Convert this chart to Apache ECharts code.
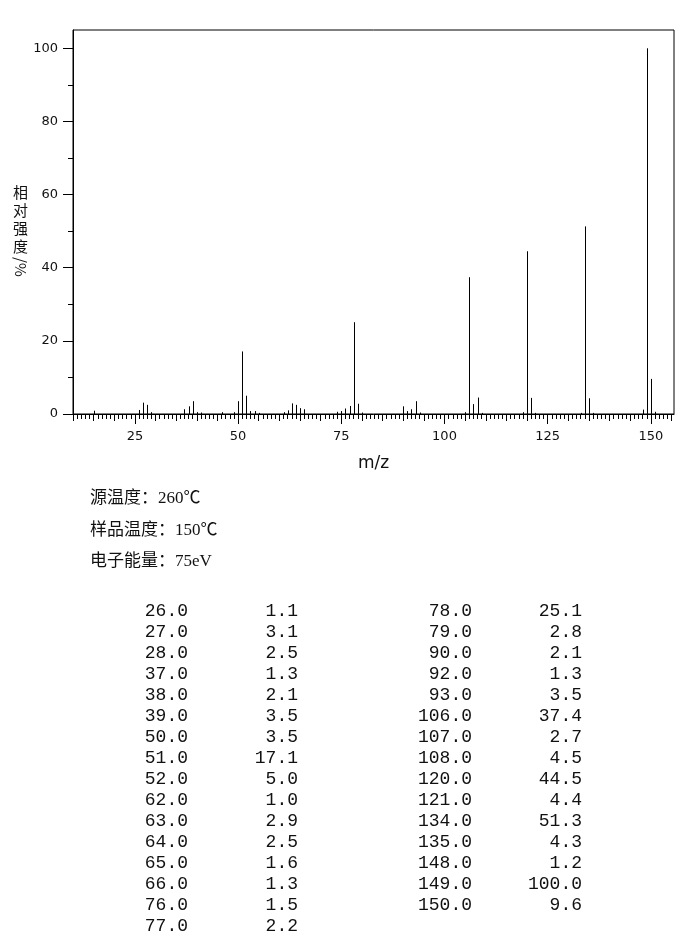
<!DOCTYPE html>
<html>
<head>
<meta charset="utf-8">
<script src="https://cdn.jsdelivr.net/npm/echarts@6/dist/echarts.min.js"></script>
<style>
html,body{margin:0;padding:0;background:#fff;}
#chart{width:696px;height:950px;}
</style>
</head>
<body>
<div id="chart"></div>
<script>
// Tabulated peaks (m/z, relative intensity %)
const tableMz = [26,27,28,37,38,39,50,51,52,62,63,64,65,66,76,77,78,79,90,92,93,106,107,108,120,121,134,135,148,149,150];
const tableInt = [1.1,3.1,2.5,1.3,2.1,3.5,3.5,17.1,5.0,1.0,2.9,2.5,1.6,1.3,1.5,2.2,25.1,2.8,2.1,1.3,3.5,37.4,2.7,4.5,44.5,4.4,51.3,4.3,1.2,100.0,9.6];
// Small peaks visible in the spectrum but below the table threshold (estimated)
const minorMz = [15,29,40,41,46,49,53,54,55,61,74,75,80,91,94,105,109,119,122,133,136,151];
const minorInt = [0.9,0.5,0.5,0.4,0.5,0.5,0.8,0.8,0.3,0.5,0.6,0.8,0.4,0.8,0.4,0.5,0.3,0.5,0.3,0.3,0.3,0.6];
// Axis ticks / labels
const xLabelTicks = [25,50,75,100,125,150];
const yLabelTicks = [0,20,40,60,80,100];
const yMinorTicks = [10,30,50,70,90];
const xMidTicks = [];
const xMinorTicks = [];
for (let v = 10; v <= 155; v += 5) xMidTicks.push(v);
for (let v = 10; v <= 155; v += 1) xMinorTicks.push(v);
// Info text
const infoLines = ['源温度：260℃', '样品温度：150℃', '电子能量：75eV'];
const yAxisTitle = '相\n对\n强\n度';
const yAxisUnit = '/%';
const xAxisTitle = 'm/z';

const leftRows = 16;

const chart = echarts.init(document.getElementById('chart'), null, {renderer: 'canvas'});

function renderPeak(params, api) {
  const top = api.coord([api.value(0), api.value(1)]);
  const base = api.coord([api.value(0), 0]);
  const x = Math.round(top[0]) + 0.5;
  return {
    type: 'line',
    shape: {x1: x, y1: base[1], x2: x, y2: top[1]},
    style: {stroke: '#000', lineWidth: 1},
    silent: true
  };
}

const tickStyle = {color: '#000', width: 1};
const labelFont = {fontSize: 13, color: '#111', fontFamily: 'DejaVu Sans'};

const graphics = [];
// y axis title
graphics.push({
  type: 'text', left: 13, top: 183,
  style: {text: yAxisTitle, fontSize: 15, lineHeight: 18, fill: '#111', fontFamily: 'Noto Sans CJK SC'}
});
graphics.push({
  type: 'text', x: 13, y: 257, rotation: -Math.PI / 2,
  style: {text: yAxisUnit, fontSize: 15, fill: '#111', fontFamily: 'Noto Sans CJK SC', verticalAlign: 'bottom', align: 'left'}
});
// info block
infoLines.forEach((t, i) => {
  graphics.push({
    type: 'text', x: 90, y: 499 + i * 31.5,
    style: {text: t, fontSize: 17, fill: '#111', fontFamily: '"Liberation Serif", "Noto Sans CJK SC"', verticalAlign: 'middle', align: 'left'}
  });
});
// peak table
const tableFont = '"Liberation Mono", monospace';
tableMz.forEach((m, i) => {
  const col = i < leftRows ? 0 : 1;
  const row = col === 0 ? i : i - leftRows;
  const y = (col === 0 ? 611 : 611.5) + row * 21;
  const xm = col === 0 ? 188 : 472;
  const xi = col === 0 ? 298 : 582;
  graphics.push({
    type: 'text', x: xm, y: y,
    style: {text: m.toFixed(1), fontSize: 18, fill: '#111', fontFamily: tableFont, align: 'right', verticalAlign: 'middle'}
  });
  graphics.push({
    type: 'text', x: xi, y: y,
    style: {text: tableInt[i].toFixed(1), fontSize: 18, fill: '#111', fontFamily: tableFont, align: 'right', verticalAlign: 'middle'}
  });
});

const xBase = {type: 'value', min: 10, max: 155.6, position: 'bottom', splitLine: {show: false}};
const yBase = {type: 'value', min: 0, max: 105, position: 'left', splitLine: {show: false}};

chart.setOption({
  animation: false,
  backgroundColor: '#fff',
  grid: {left: 73, right: 22, top: 30, bottom: 536, show: true, borderColor: '#000', borderWidth: 1, backgroundColor: 'transparent'},
  xAxis: [
    Object.assign({}, xBase, {
      axisLine: {show: true, lineStyle: {color: '#000', width: 1}},
      axisTick: {show: true, length: 10, customValues: xLabelTicks, lineStyle: tickStyle},
      axisLabel: Object.assign({customValues: xLabelTicks, margin: 16}, labelFont),
      name: xAxisTitle, nameLocation: 'middle', nameGap: 41,
      nameTextStyle: {fontSize: 17, color: '#111', fontFamily: 'DejaVu Sans'}
    }),
    Object.assign({}, xBase, {
      axisLine: {show: false},
      axisTick: {show: true, length: 7, customValues: xMidTicks, lineStyle: tickStyle},
      axisLabel: {show: false}
    }),
    Object.assign({}, xBase, {
      axisLine: {show: false},
      axisTick: {show: true, length: 5, customValues: xMinorTicks, lineStyle: tickStyle},
      axisLabel: {show: false}
    })
  ],
  yAxis: [
    Object.assign({}, yBase, {
      axisLine: {show: true, lineStyle: {color: '#000', width: 1}},
      axisTick: {show: true, length: 10, customValues: yLabelTicks, lineStyle: tickStyle},
      axisLabel: Object.assign({customValues: yLabelTicks, margin: 15}, labelFont)
    }),
    Object.assign({}, yBase, {
      axisLine: {show: false},
      axisTick: {show: true, length: 5, customValues: yMinorTicks, lineStyle: tickStyle},
      axisLabel: {show: false}
    })
  ],
  series: [
    {
      type: 'custom', name: 'peaks', xAxisIndex: 0, yAxisIndex: 0,
      renderItem: renderPeak,
      data: tableMz.map((m, i) => [m, tableInt[i]])
    },
    {
      type: 'custom', name: 'minor', xAxisIndex: 0, yAxisIndex: 0,
      renderItem: renderPeak,
      data: minorMz.map((m, i) => [m, minorInt[i]])
    }
  ],
  graphic: graphics
});
</script>
</body>
</html>
